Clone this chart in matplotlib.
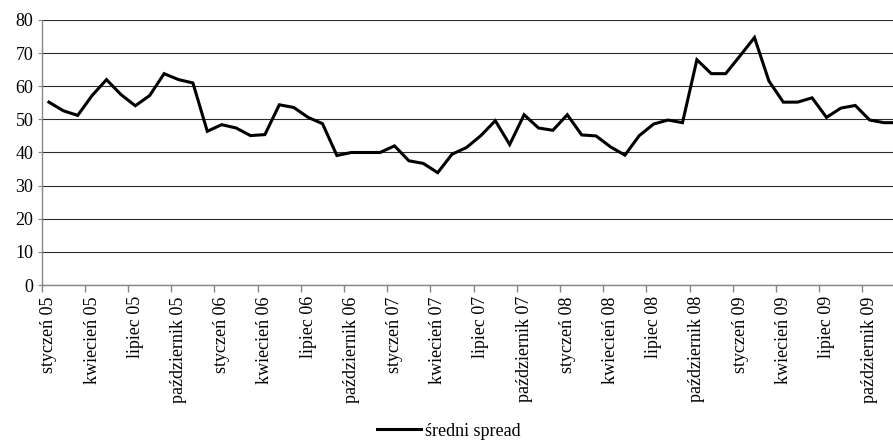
import matplotlib
matplotlib.use("Agg")
import matplotlib.pyplot as plt
import numpy as np

plt.rcParams["font.family"] = ["Liberation Serif", "DejaVu Serif"]

# monthly average spread, Jan 2005 - Dec 2009
months = ["styczeń", "luty", "marzec", "kwiecień", "maj", "czerwiec",
          "lipiec", "sierpień", "wrzesień", "październik", "listopad", "grudzień"]
years = ["05", "06", "07", "08", "09"]
categories = [f"{m} {y}" for y in years for m in months]

spread = [
    55.2, 52.6, 51.2, 57.2, 62.0, 57.5, 54.1, 57.2, 63.8, 62.0, 61.0, 46.4,
    48.4, 47.4, 45.1, 45.4, 54.4, 53.6, 50.6, 48.7, 39.1, 40.0, 40.0, 40.0,
    42.0, 37.5, 36.7, 33.9, 39.5, 41.5, 45.1, 49.6, 42.4, 51.4, 47.4, 46.7,
    51.4, 45.3, 45.0, 41.7, 39.2, 45.1, 48.6, 49.8, 49.0, 68.0, 63.8, 63.8,
    69.2, 74.7, 61.6, 55.2, 55.2, 56.5, 50.6, 53.4, 54.2, 49.8, 49.0, 49.0,
]
series_name = "średni spread"

fig = plt.figure(figsize=(8.93, 4.41), dpi=100)
ax = fig.add_axes([0.0467, 0.3537, 0.9675, 0.601])

x = np.arange(len(spread))
line, = ax.plot(x, spread, color="black", lw=2.2, solid_joinstyle="miter")

ax.set_xlim(-0.5, len(spread) - 0.5)
ax.set_ylim(0, 80)
ax.set_yticks(range(0, 81, 10))
ax.yaxis.grid(True, color="#2a2a2a", lw=0.8)
ax.set_axisbelow(True)

# labels on every third month, tick marks between categories
ax.set_xticks(x[::3])
ax.set_xticklabels(categories[::3], rotation=90, fontsize=13)
ax.set_xticks(np.arange(-0.5, len(spread), 3), minor=True)
ax.tick_params(axis="x", which="major", length=0, pad=8)
ax.tick_params(axis="x", which="minor", length=5, color="#868686", width=1)
ax.tick_params(axis="y", length=3, color="#868686", labelsize=13, pad=3)

for side in ["top", "right"]:
    ax.spines[side].set_visible(False)
for side in ["left", "bottom"]:
    ax.spines[side].set_color("#868686")
    ax.spines[side].set_linewidth(1)

fig.legend([line], [series_name], loc="center", bbox_to_anchor=(0.503, 0.022),
           frameon=False, fontsize=13, handlelength=2.4, handletextpad=0.25)

fig.savefig("out.png", dpi=100)
